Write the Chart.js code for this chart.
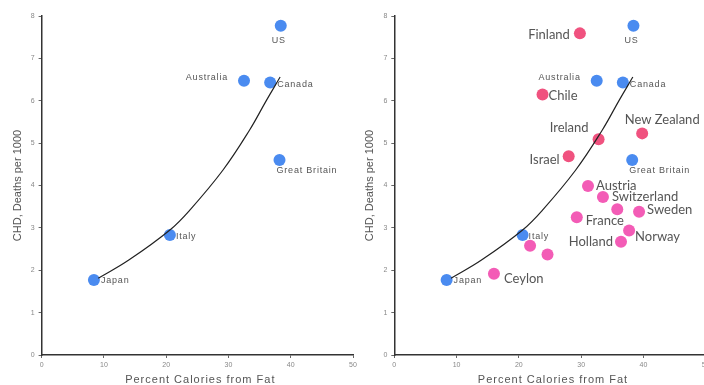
<!DOCTYPE html>
<html>
<head>
<meta charset="utf-8">
<script src="https://cdn.jsdelivr.net/npm/chart.js@4"></script>
<style>
    html, body { margin: 0; padding: 0; background: #fff; overflow: hidden; width: 704px; height: 385px; }
    .panel { position: absolute; top: 0; width: 360px; height: 385px; }
    #izq { left: 0; }
    #der { left: 355px; }
</style>
</head>
<body>
<div class="panel" id="izq"><canvas id="graficaIzq"></canvas></div>
<div class="panel" id="der"><canvas id="graficaDer"></canvas></div>
<script>
// paises del estudio original (azul)
const paisesAzul = ['US', 'Australia', 'Canada', 'Great Britain', 'Italy', 'Japan'];
const grasaAzul = [38.4, 32.5, 36.7, 38.2, 20.6, 8.4];
const chdAzul = [7.77, 6.47, 6.43, 4.6, 2.83, 1.77];

// paises que se dejaron fuera (rosa)
const paisesRosa = ['Finland', 'Chile', 'New Zealand', 'Ireland', 'Israel', 'Austria', 'Switzerland', '', 'Sweden', 'France', 'Norway', 'Holland', '', '', 'Ceylon'];
const grasaRosa = [29.8, 23.8, 39.8, 32.8, 28.0, 31.1, 33.5, 35.8, 39.3, 29.3, 37.7, 36.4, 21.8, 24.6, 16.0];
const chdRosa = [7.59, 6.15, 5.23, 5.09, 4.69, 3.99, 3.73, 3.44, 3.38, 3.25, 2.94, 2.67, 2.58, 2.37, 1.92];

// curva dibujada a mano
const curvaX = [9.1, 14, 20.6, 23.8, 29.1, 33.4, 36.1, 38.3];
const curvaY = [1.81, 2.24, 2.95, 3.42, 4.36, 5.31, 6.01, 6.56];

const ticksX = [0, 10, 20, 30, 40, 50];
const ticksY = [0, 1, 2, 3, 4, 5, 6, 7, 8];

// donde va cada etiqueta respecto al punto: [dx, dy, alineacion]
const posEtiqueta = {
    'US': [-2, 15, 'center'],
    'Australia': [-16, -3, 'right'],
    'Canada': [7, 2, 'left'],
    'Great Britain': [-3, 10, 'left'],
    'Italy': [6, 1, 'left'],
    'Japan': [7, 1, 'left'],
    'Finland': [-10, 1, 'right'],
    'Chile': [6, 1, 'left'],
    'New Zealand': [20, -14, 'center'],
    'Ireland': [-10, -11, 'right'],
    'Israel': [-9, 4, 'right'],
    'Austria': [8, 0, 'left'],
    'Switzerland': [9, 0, 'left'],
    'Sweden': [8, -2, 'left'],
    'France': [9, 4, 'left'],
    'Norway': [6, 6, 'left'],
    'Holland': [-8, 0, 'right'],
    'Ceylon': [10, 5, 'left']
};

const AZUL = '#4a8bf0';
const ROSA_ROJO = '#f0527f';
const ROSA = '#f35cb6';

function puntos(xs, ys) {
    return xs.map((x, i) => ({ x: x, y: ys[i] }));
}

const etiquetas = {
    id: 'etiquetas',
    afterDatasetsDraw(chart) {
        const ctx = chart.ctx;
        ctx.save();
        ctx.textBaseline = 'middle';
        chart.data.datasets.forEach((ds, di) => {
            if (!ds.nombres) return;
            const meta = chart.getDatasetMeta(di);
            ds.nombres.forEach((nombre, i) => {
                if (!nombre) return;
                const p = meta.data[i];
                const pos = posEtiqueta[nombre];
                if (ds.grupo === 'azul') {
                    ctx.font = '9px "Liberation Sans"';
                    ctx.letterSpacing = '0.8px';
                    ctx.fillStyle = '#555';
                } else {
                    ctx.font = '13px Lato';
                    ctx.letterSpacing = '0px';
                    ctx.fillStyle = '#555';
                }
                ctx.textAlign = pos[2];
                ctx.fillText(nombre, p.x + pos[0], p.y + pos[1]);
            });
        });
        ctx.restore();
    }
};

const titulos = {
    id: 'titulos',
    afterDraw(chart) {
        const ctx = chart.ctx;
        const area = chart.chartArea;
        ctx.save();
        ctx.fillStyle = '#555';
        ctx.textAlign = 'center';
        ctx.textBaseline = 'middle';
        ctx.font = '11px "Liberation Sans"';
        ctx.letterSpacing = '1px';
        ctx.fillText('Percent Calories from Fat', (area.left + area.right) / 2 + 3, 380);
        ctx.letterSpacing = '0px';
        ctx.translate(area.left - 24, (area.top + area.bottom) / 2);
        ctx.rotate(-Math.PI / 2);
        ctx.fillText('CHD, Deaths per 1000', 0, 0);
        ctx.restore();
    }
};

function crearGrafica(id, anchoEjeY, conRosa) {
    const datasets = [
        {
            type: 'line',
            data: puntos(curvaX, curvaY),
            borderColor: '#222',
            borderWidth: 1.2,
            pointRadius: 0,
            tension: 0.4,
            fill: false
        },
        {
            data: puntos(grasaAzul, chdAzul),
            nombres: paisesAzul,
            grupo: 'azul',
            backgroundColor: AZUL,
            borderWidth: 0,
            pointRadius: 6
        }
    ];
    if (conRosa) {
        datasets.push({
            data: puntos(grasaRosa, chdRosa),
            nombres: paisesRosa,
            grupo: 'rosa',
            backgroundColor: c => (c.dataIndex < 5 ? ROSA_ROJO : ROSA),
            borderWidth: 0,
            pointRadius: 6
        });
    }

    const ctx = document.getElementById(id).getContext('2d');
    return new Chart(ctx, {
        type: 'scatter',
        data: { datasets: datasets },
        plugins: [etiquetas, titulos],
        options: {
            responsive: false,
            animation: false,
            events: [],
            layout: {
                padding: { top: 16, right: 360 - anchoEjeY - 311.4, bottom: 0, left: 0 }
            },
            plugins: {
                legend: { display: false },
                tooltip: { enabled: false }
            },
            scales: {
                x: {
                    type: 'linear',
                    min: 0,
                    max: 50,
                    afterFit: s => { s.height = 30; },
                    afterBuildTicks: s => { s.ticks = ticksX.map(v => ({ value: v })); },
                    border: { color: '#333', width: 1.5 },
                    grid: { drawOnChartArea: false, drawTicks: true, tickLength: 3, color: '#666' },
                    ticks: { color: '#888', font: { size: 7, family: 'Liberation Sans' }, padding: 3, maxRotation: 0 }
                },
                y: {
                    type: 'linear',
                    min: 0,
                    max: 8,
                    afterFit: s => { s.width = anchoEjeY; },
                    afterBuildTicks: s => { s.ticks = ticksY.map(v => ({ value: v })); },
                    border: { color: '#333', width: 1.5 },
                    grid: { drawOnChartArea: false, drawTicks: true, tickLength: 3, color: '#666' },
                    ticks: { color: '#888', font: { size: 7, family: 'Liberation Sans' }, padding: 4 }
                }
            }
        }
    });
}

document.getElementById('graficaIzq').width = 360;
document.getElementById('graficaIzq').height = 385;
document.getElementById('graficaDer').width = 360;
document.getElementById('graficaDer').height = 385;

crearGrafica('graficaIzq', 41.6, false);
crearGrafica('graficaDer', 39.3, true);
</script>
</body>
</html>
